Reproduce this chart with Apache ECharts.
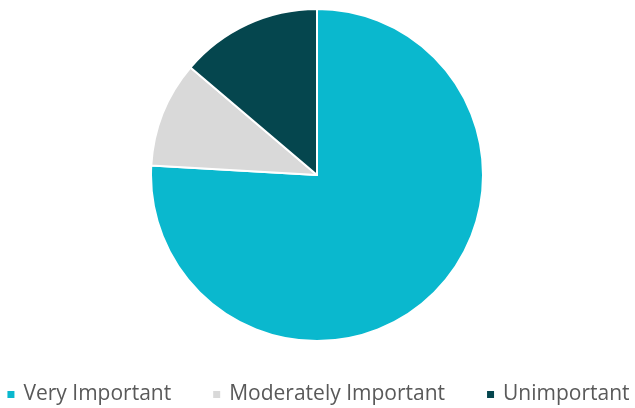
<!DOCTYPE html>
<html>
<head>
<meta charset="utf-8">
<script src="https://cdn.jsdelivr.net/npm/echarts@6/dist/echarts.min.js"></script>
<style>
  html, body { margin: 0; padding: 0; background: #fff; }
  #main { width: 635px; height: 408px; }
</style>
</head>
<body>
<div id="main"></div>
<script>
// data
const categories = ['Very Important', 'Moderately Important', 'Unimportant']
const values = [75.9, 10.3, 13.8]
const colors = ['#0AB8CE', '#D9D9D9', '#05464E']

let myChart = echarts.init(document.getElementById('main'))

myChart.setOption({
  animation: false,
  color: colors,
  legend: {
    top: 379,
    left: 'center',
    itemWidth: 9,
    itemHeight: 9,
    itemGap: 40,
    icon: 'rect',
    textStyle: { color: '#595959', fontSize: 21, fontFamily: 'Open Sans', padding: [0, 0, 0, 3] },
    data: categories
  },
  series: [{
    type: 'pie',
    center: [317, 175],
    radius: 166,
    startAngle: 90,
    clockwise: true,
    label: { show: false },
    labelLine: { show: false },
    itemStyle: { borderColor: '#fff', borderWidth: 2 },
    data: categories.map((name, i) => ({ name: name, value: values[i] }))
  }]
})
</script>
</body>
</html>
